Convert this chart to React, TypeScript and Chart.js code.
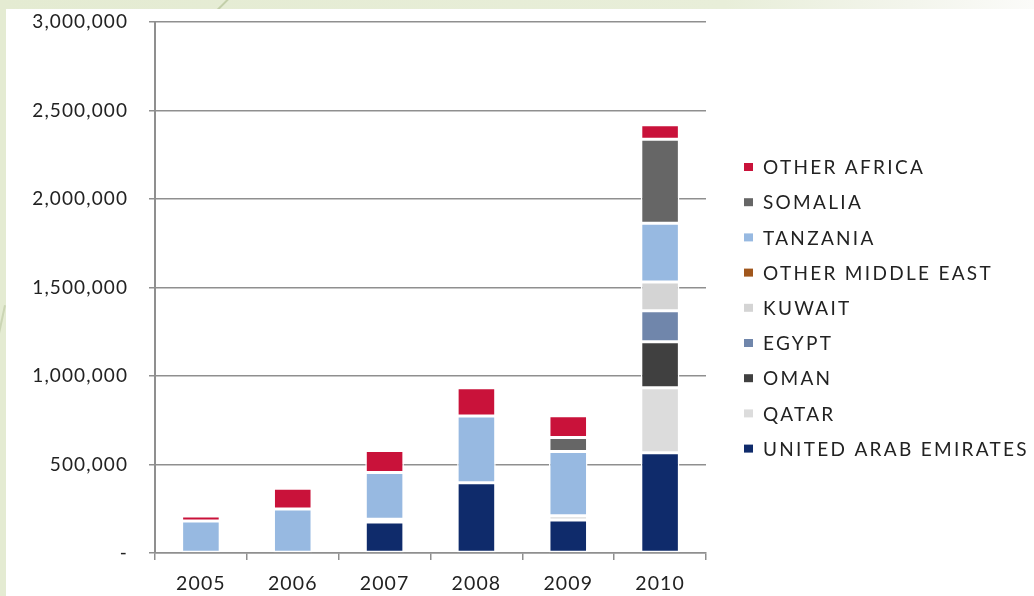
import React, { useEffect, useRef } from "react";
import { Chart, registerables } from "chart.js";

Chart.register(...registerables);

const YEARS = ["2005", "2006", "2007", "2008", "2009", "2010"];

// stacked bottom -> top
const UNITED_ARAB_EMIRATES = [0, 0, 175000, 397000, 186000, 567000];
const QATAR = [0, 0, 15000, 0, 25000, 367000];
const OMAN = [0, 0, 0, 0, 0, 260000];
const EGYPT = [0, 0, 0, 0, 0, 175000];
const KUWAIT = [0, 0, 0, 0, 0, 162000];
const OTHER_MIDDLE_EAST = [0, 0, 0, 0, 0, 0];
const TANZANIA = [181000, 249000, 265000, 377000, 362000, 332000];
const SOMALIA = [0, 0, 0, 0, 79000, 475000];
const OTHER_AFRICA = [28000, 117000, 124000, 160000, 124000, 81000];

const SERIES_NAMES = [
  "UNITED ARAB EMIRATES",
  "QATAR",
  "OMAN",
  "EGYPT",
  "KUWAIT",
  "OTHER MIDDLE EAST",
  "TANZANIA",
  "SOMALIA",
  "OTHER AFRICA",
];
const SERIES_VALUES = [
  UNITED_ARAB_EMIRATES,
  QATAR,
  OMAN,
  EGYPT,
  KUWAIT,
  OTHER_MIDDLE_EAST,
  TANZANIA,
  SOMALIA,
  OTHER_AFRICA,
];
const SERIES_COLORS = [
  "#0f2b6b",
  "#dcdcdc",
  "#404040",
  "#7086ab",
  "#d4d4d4",
  "#a0561c",
  "#97b9e1",
  "#666666",
  "#c9123a",
];

const Y_MAX = 3000000;
const Y_STEP = 500000;

const FONT = "Lato, 'Open Sans', sans-serif";
const TEXT_COLOR = "#222222";
const GRID_COLOR = "#8f8f8f";

const spacing = {
  id: "letterSpacing",
  beforeDraw(chart: any) {
    chart.ctx.letterSpacing = "1.1px";
  },
};

const sideLegend = {
  id: "sideLegend",
  afterDraw(chart: any) {
    const { ctx, chartArea } = chart;
    const ds = chart.data.datasets;
    ctx.save();
    ctx.font = `19px ${FONT}`;
    ctx.letterSpacing = "2.3px";
    ctx.textBaseline = "middle";
    ctx.textAlign = "left";
    const x0 = chartArea.right + 38;
    const y0 = 167;
    const gap = 35.2;
    let row = 0;
    for (let i = ds.length - 1; i >= 0; i--, row++) {
      const y = y0 + row * gap;
      ctx.fillStyle = ds[i].backgroundColor;
      ctx.fillRect(x0, y - 4, 9, 8);
      ctx.fillStyle = TEXT_COLOR;
      ctx.fillText(ds[i].label, x0 + 19, y + 1);
    }
    ctx.restore();
  },
};

function ChartView() {
  const ref = useRef<HTMLCanvasElement | null>(null);
  useEffect(() => {
    if (!ref.current) return;
    const chart = new Chart(ref.current, {
      type: "bar",
      data: {
        labels: YEARS,
        datasets: SERIES_NAMES.map((name, i) => ({
          label: name,
          data: SERIES_VALUES[i],
          backgroundColor: SERIES_COLORS[i],
          borderColor: "#ffffff",
          borderWidth: 1.5,
          borderSkipped: false,
          barPercentage: 0.42,
          categoryPercentage: 1,
        })),
      },
      options: {
        responsive: false,
        animation: false,
        layout: { padding: { top: 22, right: 328, bottom: 0, left: 0 } },
        plugins: {
          legend: { display: false },
          tooltip: { enabled: false },
        },
        scales: {
          x: {
            stacked: true,
            offset: true,
            grid: {
              display: true,
              drawOnChartArea: false,
              drawTicks: true,
              tickLength: 7,
              color: GRID_COLOR,
              lineWidth: 1.5,
            },
            border: { display: true, color: GRID_COLOR, width: 1.5 },
            ticks: {
              font: { family: FONT, size: 19.5 },
              color: TEXT_COLOR,
              padding: 12,
              maxRotation: 0,
            },
            afterFit: (s: any) => {
              s.height = 43;
              s.paddingLeft = 0;
              s.paddingRight = 0;
            },
          },
          y: {
            stacked: true,
            min: 0,
            max: Y_MAX,
            grid: {
              color: GRID_COLOR,
              lineWidth: 1.5,
              tickLength: 6,
              drawTicks: true,
            },
            border: { display: true, color: GRID_COLOR, width: 2 },
            ticks: {
              stepSize: Y_STEP,
              font: { family: FONT, size: 19 },
              color: TEXT_COLOR,
              padding: 21,
              callback: (v: any) =>
                Number(v) === 0 ? "-" : Number(v).toLocaleString("en-US"),
            },
            afterFit: (s: any) => {
              s.width = 155;
              s.paddingTop = 0;
              s.paddingBottom = 0;
            },
          },
        },
      },
      plugins: [spacing, sideLegend],
    });
    return () => chart.destroy();
  }, []);
  return (
    <canvas
      ref={ref}
      width={1034}
      height={596}
      style={{ position: "absolute", left: 0, top: 0, width: 1034, height: 596 }}
    />
  );
}

export default function App() {
  return (
    <div
      style={{
        position: "fixed",
        left: 0,
        top: 0,
        width: 1034,
        height: 596,
        overflow: "hidden",
        background:
          "linear-gradient(90deg, #e4ebd2 0%, #e8eed9 70%, #f3f5ec 88%, #fbfbf9 100%)",
      }}
    >
      <div
        style={{
          position: "absolute",
          left: 230,
          top: -4,
          width: 1.5,
          height: 22,
          background: "#c3cfa9",
          transform: "rotate(45deg)",
          transformOrigin: "top left",
        }}
      />
      <div
        style={{
          position: "absolute",
          left: 4,
          top: 305,
          width: 1.5,
          height: 70,
          background: "#cbd5b4",
          transform: "rotate(12deg)",
          transformOrigin: "top left",
        }}
      />
      <div
        style={{
          position: "absolute",
          left: 6,
          top: 9,
          width: 1028,
          height: 587,
          background: "#ffffff",
        }}
      />
      <ChartView />
    </div>
  );
}
